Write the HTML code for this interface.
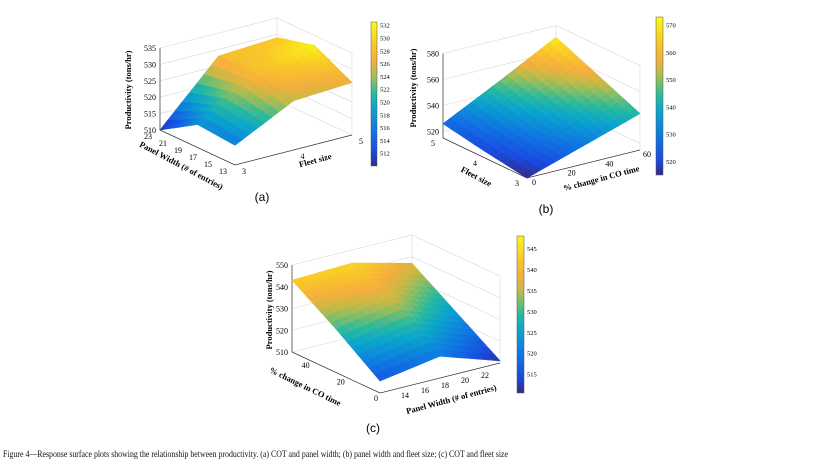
<!DOCTYPE html>
<html><head><meta charset="utf-8">
<style>
html,body{margin:0;padding:0;background:#fff;}
svg{display:block;font-family:"Liberation Serif",serif;}
</style></head>
<body>
<svg id="fig" width="824" height="465" viewBox="0 0 824 465" xmlns="http://www.w3.org/2000/svg">
<g id="layer"></g>
<text x="3" y="457" font-size="9.5" textLength="505" lengthAdjust="spacingAndGlyphs" fill="#111">Figure 4—Response surface plots showing the relationship between productivity. (a) COT and panel width; (b) panel width and fleet size; (c) COT and fleet size</text>
<text x="262" y="201" font-family="Liberation Sans, sans-serif" font-size="12" text-anchor="middle">(a)</text>
<text x="546" y="213" font-family="Liberation Sans, sans-serif" font-size="12" text-anchor="middle">(b)</text>
<text x="373" y="432" font-family="Liberation Sans, sans-serif" font-size="12" text-anchor="middle">(c)</text>
</svg>
<script>
// ---- data (productivity grids, rows = u index, cols = v index) ----
// (a) u: panel width 23->13, v: fleet size 3->5
const aUTicks = ["23","21","19","17","15","13"];
const aVTicks = ["3","4","5"];
const aZ = [[510,528,529],[517,528,532],[516,525,526]];
const aZTicks = [510,515,520,525,530,535];
const aCbTicks = [512,514,516,518,520,522,524,526,528,530,532];
// (b) u: fleet size 3->5, v: % change CO time 0->60
const bUTicks = ["3","4","5"];
const bVTicks = ["0","20","40","60"];
const bZ = [[515,529,543],[520,538,557],[526,548,571]];
const bZTicks = [520,540,560,580];
const bCbTicks = [520,530,540,550,560,570];
// (c) u: % change CO time 0->50, v: panel width 13->23
const cUTicks = ["0","","20","","40",""];
const cVTicks = ["","14","16","18","20","22",""];
const cZ = [[515.5,520,511],[530,535,524],[543,544,537]];
const cZTicks = [510,520,530,540,550];
const cCbTicks = [515,520,525,530,535,540,545];

const stops=[[0,[53,42,135]],[0.1,[25,75,225]],[0.25,[15,120,225]],[0.4,[10,165,205]],[0.5,[40,185,160]],[0.58,[120,190,110]],[0.66,[200,185,70]],[0.74,[245,175,60]],[0.85,[250,200,40]],[1,[249,250,20]]];
function parula(t){t=Math.max(0,Math.min(1,t));for(let i=1;i<stops.length;i++){if(t<=stops[i][0]){const a=stops[i-1],b=stops[i];const f=(t-a[0])/(b[0]-a[0]);const c=a[1].map((x,k)=>Math.round(x+(b[1][k]-x)*f));return `rgb(${c[0]},${c[1]},${c[2]})`;}}return 'rgb(249,250,20)';}
const NS="http://www.w3.org/2000/svg";
const layer=document.getElementById('layer');
function el(tag,attrs,parent,txt){const e=document.createElementNS(NS,tag);for(const k in attrs)e.setAttribute(k,attrs[k]);if(txt!==undefined)e.textContent=txt;(parent||layer).appendChild(e);return e;}
function bil(Z,u,v){const n=Z.length-1,m=Z[0].length-1;const x=u*n,y=v*m;const i=Math.min(Math.floor(x),n-1),j=Math.min(Math.floor(y),m-1);const fx=x-i,fy=y-j;
 return Z[i][j]*(1-fx)*(1-fy)+Z[i+1][j]*fx*(1-fy)+Z[i][j+1]*(1-fx)*fy+Z[i+1][j+1]*fx*fy;}

function plot(cfg){
 const g=el('g',{});  
 const P=(u,v,z)=>[cfg.O[0]+u*cfg.U[0]+v*cfg.V[0], cfg.O[1]+u*cfg.U[1]+v*cfg.V[1]-(z-cfg.z0)*cfg.zs];
 const zTop=cfg.zTicks[cfg.zTicks.length-1];
 const [zc,bc,oc]=cfg.walls;
 const wall=el('g',{stroke:'#d8d8d8','stroke-width':'0.6',fill:'none'},g);
 
 cfg.zTicks.forEach(z=>{const a=P(zc[0],zc[1],z),b=P(bc[0],bc[1],z),c=P(oc[0],oc[1],z);el('polyline',{points:`${a} ${b} ${c}`},wall);});
 [zc,bc,oc].forEach(([u,v])=>{const a=P(u,v,cfg.z0),b=P(u,v,zTop);el('line',{x1:a[0],y1:a[1],x2:b[0],y2:b[1]},wall);});
 el('polyline',{points:cfg.front.map(([u,v])=>P(u,v,cfg.z0)).join(' '),stroke:'#333','stroke-width':'0.7'},wall);
 const za=P(zc[0],zc[1],cfg.z0),zb=P(zc[0],zc[1],zTop);el('line',{x1:za[0],y1:za[1],x2:zb[0],y2:zb[1],stroke:'#333','stroke-width':'0.7'},wall);
 const N=16;const sg=el('g',{},g);
 const quads=[];
 for(let i=0;i<N;i++)for(let j=0;j<N;j++){const u0=i/N,u1=(i+1)/N,v0=j/N,v1=(j+1)/N;
  const zs=[bil(cfg.Z,u0,v0),bil(cfg.Z,u1,v0),bil(cfg.Z,u1,v1),bil(cfg.Z,u0,v1)];
  const pts=[P(u0,v0,zs[0]),P(u1,v0,zs[1]),P(u1,v1,zs[2]),P(u0,v1,zs[3])];
  const zm=(zs[0]+zs[1]+zs[2]+zs[3])/4;const depth=(u0+u1)*cfg.du+(v0+v1)*cfg.dv;
  quads.push({pts,zm,depth});}
 quads.sort((a,b)=>a.depth-b.depth);
 quads.forEach(q=>{const c=parula((q.zm-cfg.cmin)/(cfg.cmax-cfg.cmin));el('polygon',{points:q.pts.map(p=>p.map(x=>x.toFixed(1)).join(',')).join(' '),fill:c,stroke:c,'stroke-width':'0.6'},sg);});
 cfg.zTicks.forEach(z=>{const p=P(zc[0],zc[1],z);const t=el('text',{x:p[0]-4,y:p[1]+3,'font-size':'8','text-anchor':'end'},g,String(z));});
 cfg.uTicks.forEach((s,k)=>{if(!s)return;const p=P(k/(cfg.uTicks.length-1),0,cfg.z0);const t=el('text',{x:p[0]+cfg.uOff[0],y:p[1]+cfg.uOff[1],'font-size':'8','text-anchor':'middle'},g,s);});
 cfg.vTicks.forEach((s,k)=>{if(!s)return;const p=P(cfg.vEdgeU,k/(cfg.vTicks.length-1),cfg.z0);const t=el('text',{x:p[0]+cfg.vOff[0],y:p[1]+cfg.vOff[1],'font-size':'8','text-anchor':'middle'},g,s);});
 cfg.titles.forEach(tt=>{const t=el('text',{x:tt.x,y:tt.y,'font-size':'8.5','font-weight':'bold','text-anchor':'middle',transform:`rotate(${tt.r} ${tt.x} ${tt.y})`},g,tt.s);});
 const cb=cfg.cb;const cg=el('g',{},g);
 const gid='grad'+cfg.name;const defs=el('defs',{},cg);const lg=el('linearGradient',{id:gid,x1:0,y1:1,x2:0,y2:0},defs);
 for(let k=0;k<=20;k++)el('stop',{offset:k/20,'stop-color':parula(k/20)},lg);
 el('rect',{x:cb.x,y:cb.y0,width:cb.w,height:cb.y1-cb.y0,fill:`url(#${gid})`,stroke:'#555','stroke-width':'0.5'},cg);
 cfg.cbTicks.forEach(v=>{const y=cb.y1-(v-cfg.cmin)/(cfg.cmax-cfg.cmin)*(cb.y1-cb.y0);const t=el('text',{x:cb.x+cb.w+3,y:y+2.5,'font-size':'6.5'},cg,String(v));});
}

plot({name:'plot-a',O:[160,130],U:[75,35],V:[117,-30],z0:510,zs:82/25,Z:aZ,cmin:510,cmax:532.5,zTicks:aZTicks,
 walls:[[0,0],[0,1],[1,1]],front:[[0,0],[1,0],[1,1]],vEdgeU:1,
 uTicks:aUTicks,vTicks:aVTicks,uOff:[-12,9],vOff:[9,9],du:1,dv:-1,
 titles:[{s:'Productivity (tons/hr)',x:131,y:90,r:-90,n:'z-axis-title'},{s:'Panel Width (# of entries)',x:180,y:168,r:28,n:'x-axis-title'},{s:'Fleet size',x:316,y:163,r:-15,n:'y-axis-title'}],
 cb:{x:371,y0:22,y1:166,w:6},cbTicks:aCbTicks});
plot({name:'plot-b',O:[527,178],U:[-84,-40],V:[113,-28],z0:515,zs:1.3,Z:bZ,cmin:515,cmax:573,zTicks:bZTicks,
 walls:[[1,0],[1,1],[0,1]],front:[[1,0],[0,0],[0,1]],vEdgeU:0,
 uTicks:bUTicks,vTicks:bVTicks,uOff:[-10,8],vOff:[7,7],du:-1,dv:-1,
 titles:[{s:'Productivity (tons/hr)',x:416,y:88,r:-90,n:'z-axis-title'},{s:'Fleet size',x:475,y:179,r:28,n:'x-axis-title'},{s:'% change in CO time',x:602,y:181,r:-15,n:'y-axis-title'}],
 cb:{x:656,y0:17,y1:175,w:7},cbTicks:bCbTicks});
plot({name:'plot-c',O:[380,393],U:[-88,-41],V:[120,-30],z0:510,zs:87/40,Z:cZ,cmin:510.5,cmax:548,zTicks:cZTicks,
 walls:[[1,0],[1,1],[0,1]],front:[[1,0],[0,0],[0,1]],vEdgeU:0,
 uTicks:cUTicks,vTicks:cVTicks,uOff:[-4,8],vOff:[5,10],du:-1,dv:-1,
 titles:[{s:'Productivity (tons/hr)',x:272,y:310,r:-90,n:'z-axis-title'},{s:'% change in CO time',x:304,y:389,r:26,n:'x-axis-title'},{s:'Panel Width (# of entries)',x:452,y:402,r:-15,n:'y-axis-title'}],
 cb:{x:517,y0:236,y1:393,w:7},cbTicks:cCbTicks});
</script>
</body></html>
